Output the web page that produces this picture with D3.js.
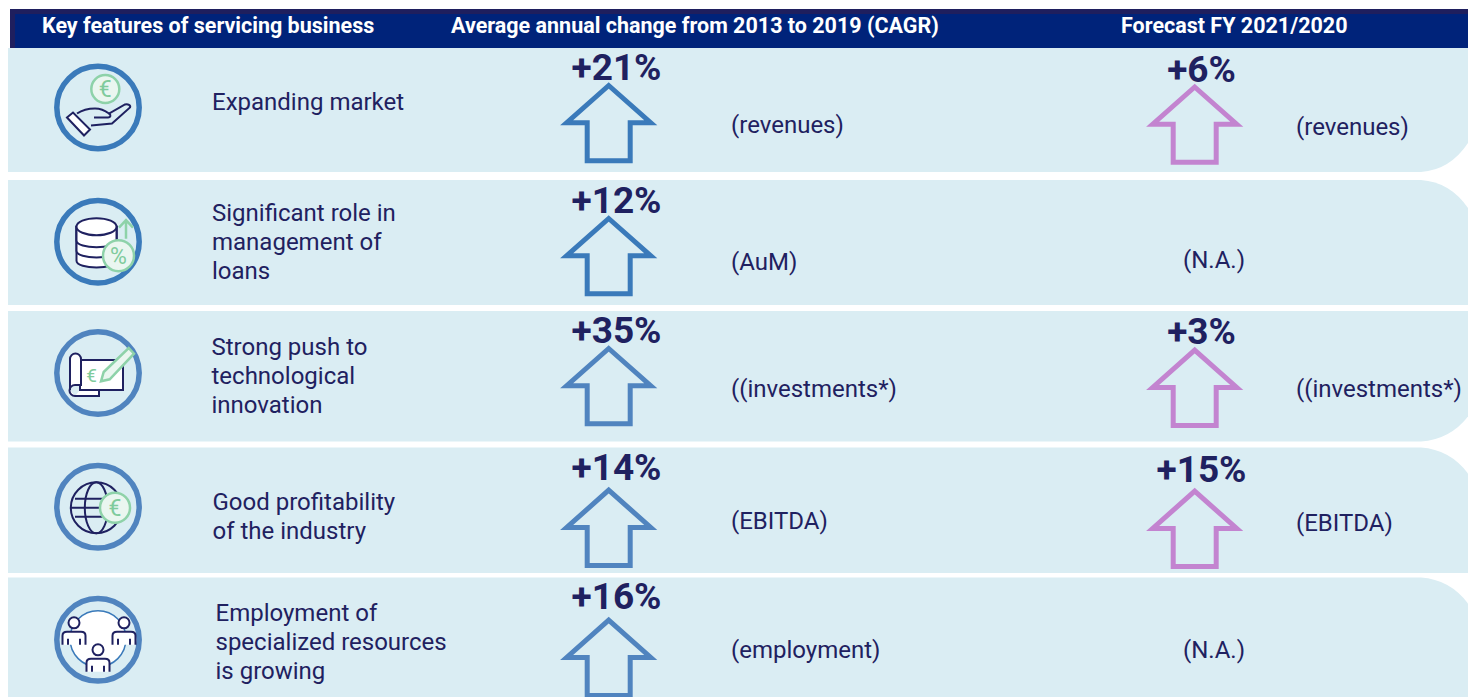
<!DOCTYPE html>
<meta charset="utf-8">
<style>
html, body { margin: 0; padding: 0; background: #fff; overflow: hidden; }
text { font-family: Roboto, sans-serif; }
.head { font-size: 21.5px; font-weight: 700; fill: #fff; }
.feature, .note { font-size: 24px; fill: #1f2160; }
.value { font-size: 37px; font-weight: 700; fill: #1f2160; text-anchor: middle; }
.arrow { fill: none; stroke-width: 5; stroke-miterlimit: 6; }
.navy { fill: none; stroke: #1f2160; stroke-width: 2; }
.navyfill { fill: #fff; stroke: #1f2160; stroke-width: 2; }
.green { fill: #eaf6f0; stroke: #8ed2a9; stroke-width: 2.5; }
.greentext { fill: #7fcb9c; text-anchor: middle; }
</style>
<body>
<svg width="1468" height="697"></svg>
<script src="https://d3js.org/d3.v7.min.js"></script>
<script>
// chart content
var headers = ["Key features of servicing business", "Average annual change from 2013 to 2019 (CAGR)", "Forecast FY 2021/2020"];
var features = [
  ["Expanding market"],
  ["Significant role in", "management of", "loans"],
  ["Strong push to", "technological", "innovation"],
  ["Good profitability", "of the industry"],
  ["Employment of", "specialized resources", "is growing"]
];
var cagrValues = [21, 12, 35, 14, 16];
var cagrNotes = ["(revenues)", "(AuM)", "((investments*)", "(EBITDA)", "(employment)"];
var forecastValues = [6, null, 3, 15, null];
var forecastNotes = ["(revenues)", "(N.A.)", "((investments*)", "(EBITDA)", "(N.A.)"];
var iconNames = ["hand", "database", "scroll", "globe", "people"];

// layout, the rows in the source are not evenly spaced
var rowIdx = d3.range(features.length);
var rowTop = d3.scaleOrdinal().domain(rowIdx).range([48, 180, 311, 447.5, 577.5]);
var rowBottom = d3.scaleOrdinal().domain(rowIdx).range([172, 305, 441.5, 573, 697]);
var cornerDrop = d3.scaleOrdinal().domain(rowIdx).range([-29, 28, -25, 26, 26]);   // minus = bottom corner
var ringColor = d3.scaleOrdinal().domain(rowIdx).range(["#3a7aba", "#3a7aba", "#5084bf", "#5084bf", "#5084bf"]);
var iconY = d3.scaleOrdinal().domain(rowIdx).range([107.5, 241.7, 373, 506.8, 639.8]);
var featureX = d3.scaleOrdinal().domain(rowIdx).range([212, 212, 211.5, 212.5, 215.5]);
var featureY = d3.scaleOrdinal().domain(rowIdx).range([110, 221, 355, 510, 621]);
var cagrTip = d3.scaleOrdinal().domain(rowIdx).range([82, 215, 345, 486.7, 616.7]);
var cagrValueY = d3.scaleOrdinal().domain(rowIdx).range([80, 213, 343, 480, 609]);
var cagrNoteY = d3.scaleOrdinal().domain(rowIdx).range([133, 270, 396.5, 528.5, 658]);
var foreTip = d3.scaleOrdinal().domain(rowIdx).range([83.5, 0, 346.7, 487.7, 0]);
var foreValueY = d3.scaleOrdinal().domain(rowIdx).range([82, 0, 343.5, 482, 0]);
var foreNoteY = d3.scaleOrdinal().domain(rowIdx).range([135, 268, 397, 531, 658]);
var foreNoteX = d3.scaleOrdinal().domain(rowIdx).range([1296, 1183, 1296, 1296, 1183]);

var svg = d3.select("svg");

// header bar
svg.append("rect").attr("x", 10).attr("y", 9).attr("width", 1458).attr("height", 39).attr("fill", "#1f1f5e");
svg.append("rect").attr("x", 15).attr("y", 14).attr("width", 1453).attr("height", 34).attr("fill", "#00237a");
svg.selectAll(".head").data(headers).join("text")
    .attr("class", "head")
    .attr("x", function(d, i) { return [42, 451, 1121][i]; })
    .attr("y", 33)
    .text(function(d) { return d; });

// row bands
function bandPath(i) {
  var t = rowTop(i), b = rowBottom(i), d = cornerDrop(i), p = d3.path();
  p.moveTo(8, t);
  if (d > 0) {
    p.lineTo(1421, t);
    p.quadraticCurveTo(1450, t + 2, 1468, t + d);
    p.lineTo(1468, b);
  } else {
    p.lineTo(1468, t);
    p.lineTo(1468, b + d);
    p.quadraticCurveTo(1450, b - 2, 1421, b);
  }
  p.lineTo(8, b);
  p.closePath();
  return p.toString();
}
svg.selectAll(".band").data(rowIdx).join("path")
    .attr("class", "band")
    .attr("d", bandPath)
    .attr("fill", "#daedf3");

// feature text
svg.selectAll(".feature").data(rowIdx).join("text")
    .attr("class", "feature")
    .attr("x", featureX)
    .attr("y", featureY)
    .selectAll("tspan").data(function(i) { return features[i].map(function(s) { return {s: s, i: i}; }); }).join("tspan")
    .attr("x", function(d) { return featureX(d.i); })
    .attr("dy", function(d, k) { return k ? 29 : 0; })
    .text(function(d) { return d.s; });

// arrows, origin is the outer tip
var arrowShape = d3.line()([[0, 3.5], [42, 40.7], [21.5, 40.7], [21.5, 78.8], [-21.5, 78.8], [-21.5, 40.7], [-42, 40.7]]) + "Z";

function drawColumn(values, notes, cx, valueX, tip, valueY, noteX, noteY, color) {
  var col = svg.append("g");
  var rows = rowIdx.filter(function(i) { return values[i] != null; });
  col.selectAll(".arrow").data(rows).join("path")
      .attr("class", "arrow")
      .attr("d", arrowShape)
      .attr("transform", function(i) { return "translate(" + cx + "," + tip(i) + ")"; })
      .attr("stroke", color);
  col.selectAll(".value").data(rows).join("text")
      .attr("class", "value")
      .attr("x", valueX)
      .attr("y", valueY)
      .text(function(i) { return "+" + values[i] + "%"; });
  col.selectAll(".note").data(rowIdx).join("text")
      .attr("class", "note")
      .attr("x", noteX)
      .attr("y", noteY)
      .text(function(i) { return notes[i]; });
}
drawColumn(cagrValues, cagrNotes, 608.7, 616.5, cagrTip, cagrValueY, 731, cagrNoteY, ringColor);
drawColumn(forecastValues, forecastNotes, 1194.7, 1201.5, foreTip, foreValueY, foreNoteX, foreNoteY, "#c384d0");

// icons
var icons = {
  hand: function(g) {
    g.append("path").attr("class", "navyfill").attr("d", "M-31,10L-25,5L-8,22L-14,28Z");
    g.append("path").attr("class", "navy").attr("d", "M-21,6C-15,2 -10,1 -3,1C3,1 7,3 11,6L27,-3C30,-4 33,-2 32,0L14,16L-7,18");
    g.append("path").attr("class", "navy").attr("d", "M-4,10H10C13,10 13,7 11,6");
    g.append("circle").attr("class", "green").attr("cx", 7.3).attr("cy", -18.5).attr("r", 14);
    g.append("text").attr("class", "greentext").attr("x", 7.3).attr("y", -10.5).attr("font-size", 23).text("€");
  },
  database: function(g) {
    [27, 17, 6.7].forEach(function(b) {
      g.append("path").attr("class", "navyfill")
          .attr("d", "M-21.5,-15V" + (b - 8) + "C-21.5," + (b + 1) + " 18.5," + (b + 1) + " 18.5," + (b - 8) + "V-15Z");
    });
    g.append("ellipse").attr("class", "navyfill").attr("cx", -1.5).attr("cy", -15).attr("rx", 20).attr("ry", 8.5);
    g.append("path").attr("d", "M28,-3V-21M21,-14L28,-21.5L35,-14").attr("fill", "none").attr("stroke", "#8ed2a9").attr("stroke-width", 2.5);
    g.append("circle").attr("class", "green").attr("cx", 20.5).attr("cy", 14).attr("r", 15.5);
    g.append("text").attr("class", "greentext").attr("x", 20.5).attr("y", 22).attr("font-size", 23).text("%");
  },
  scroll: function(g) {
    g.append("path").attr("class", "navyfill").attr("d", "M-23,23H1V17H-18V-13H25V17H-18");
    g.append("path").attr("class", "navyfill").attr("d", "M-28,17V-14A5.5,5.5 0 0 1 -17,-14V12H-23A5.5,5.5 0 1 0 -23,23");
    g.append("text").attr("class", "greentext").attr("x", -6.5).attr("y", 9).attr("font-size", 19).text("€");
    g.append("path").attr("class", "green").attr("stroke-width", 2).attr("d", "M3,8.3L5.7,-1L30.7,-25L36,-19.3L11.7,6.3Z");
  },
  globe: function(g) {
    g.append("circle").attr("class", "navy").attr("cx", -1.7).attr("cy", 1).attr("r", 25.5);
    g.append("ellipse").attr("class", "navy").attr("cx", -1.7).attr("cy", 1).attr("rx", 11.5).attr("ry", 25.5);
    g.append("path").attr("class", "navy").attr("d", "M-27,1H24M-23,-8H20M-23,10H20");
    g.append("circle").attr("class", "green").attr("cx", 17).attr("cy", 1).attr("r", 15);
    g.append("text").attr("class", "greentext").attr("x", 17).attr("y", 9).attr("font-size", 23).text("€");
  },
  people: function(g) {
    g.append("circle").attr("cx", 0).attr("cy", -1).attr("r", 28).attr("fill", "#fff").attr("stroke", "#3a7aba").attr("stroke-width", 1.5);
    [[-24, -17], [26, -17], [0, 10]].forEach(function(p) {
      g.append("circle").attr("class", "navyfill").attr("cx", p[0]).attr("cy", p[1]).attr("r", 5.5);
      g.append("path").attr("class", "navyfill").attr("transform", "translate(" + p[0] + "," + (p[1] + 9) + ")")
          .attr("d", "M-11.5,13V4Q-11.5,0 -7,0H7Q11.5,0 11.5,4V13");
      g.append("path").attr("class", "navy").attr("transform", "translate(" + p[0] + "," + (p[1] + 9) + ")")
          .attr("d", "M-6,7V13M6,7V13");
    });
  }
};
var iconG = svg.selectAll(".icon").data(rowIdx).join("g")
    .attr("class", "icon")
    .attr("transform", function(i) { return "translate(98," + iconY(i) + ")"; });
iconG.append("circle")
    .attr("r", 41.2)
    .attr("fill", "none")
    .attr("stroke-width", 5.5)
    .attr("stroke", ringColor);
iconG.each(function(i) { icons[iconNames[i]](d3.select(this)); });
</script>
</body>
